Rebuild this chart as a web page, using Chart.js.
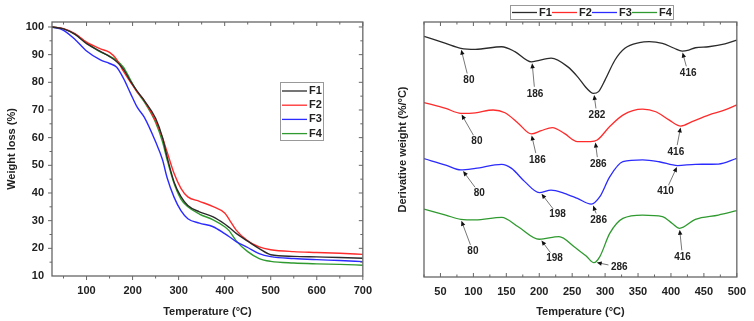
<!DOCTYPE html>
<html>
<head>
<meta charset="utf-8">
<script src="https://cdn.jsdelivr.net/npm/chart.js@4.4.0/dist/chart.umd.min.js"></script>
<style>
  html, body { margin: 0; padding: 0; background: #fff; }
  #wrap { position: relative; width: 754px; height: 321px; }
  #left { position: absolute; left: 0; top: 0; }
  #right { position: absolute; left: 380px; top: 0; }
</style>
</head>
<body>
<div id="wrap">
  <canvas id="left" width="380" height="321"></canvas>
  <canvas id="right" width="374" height="321"></canvas>
</div>
<script>
// ---- data ----
const seriesNames = ["F1", "F2", "F3", "F4"];

// TGA (weight loss %) vs temperature
const tgaTemp = [25, 50, 75, 100, 130, 150, 165, 180, 195, 210, 225, 250, 265, 275, 290, 305, 320, 345, 375, 400, 410, 425, 450, 475, 500, 550, 600, 650, 700];
const tgaF1 = [100, 99.3, 97.3, 94.0, 91.2, 89.3, 87.5, 84.8, 80.5, 76.8, 73.5, 67.0, 60.0, 53.0, 44.0, 38.7, 35.5, 33.2, 31.4, 28.8, 27.5, 25.4, 22.6, 19.9, 17.7, 17.1, 16.9, 16.7, 16.4];
const tgaF2 = [100, 99.4, 97.6, 94.5, 92.1, 90.8, 88.4, 84.0, 80.2, 76.5, 73.5, 66.0, 60.0, 54.8, 47.1, 41.7, 38.6, 37.0, 35.1, 32.8, 30.4, 26.6, 22.7, 20.5, 19.5, 18.8, 18.5, 18.2, 17.8];
const tgaF3 = [100, 98.8, 95.5, 91.3, 88.1, 86.8, 85.5, 81.5, 76.2, 71.0, 67.5, 58.5, 52.0, 45.5, 38.5, 33.6, 30.7, 29.1, 27.8, 25.3, 24.2, 22.4, 20.3, 18.1, 17.0, 16.3, 15.9, 15.6, 15.2];
const tgaF4 = [100, 99.3, 97.4, 94.3, 91.0, 89.5, 88.0, 85.5, 81.0, 76.5, 73.0, 65.5, 58.5, 52.0, 43.5, 37.8, 35.0, 32.4, 30.3, 27.8, 26.3, 22.7, 18.8, 16.3, 15.3, 14.7, 14.4, 14.2, 13.9];

// DTG (derivative weight, arbitrary stacked units) vs temperature
const dtgTempF1 = [25, 58, 81, 103, 143, 163, 188, 218, 243, 258, 272, 282, 290, 300, 315, 330, 352, 367, 387, 405, 417, 427, 437, 457, 482, 500];
const dtgF1 = [94.4, 91.6, 89.7, 89.3, 90.3, 88.4, 84.4, 85.8, 82.5, 78.6, 74.0, 72.0, 72.7, 77.3, 85.1, 89.7, 91.9, 92.3, 91.6, 89.7, 88.6, 89.0, 89.9, 90.3, 91.4, 92.9];
const dtgTempF2 = [25, 58, 81, 103, 130, 148, 168, 188, 203, 220, 238, 258, 278, 288, 307, 327, 357, 377, 397, 415, 432, 457, 482, 500];
const dtgF2 = [68.4, 66.1, 64.2, 64.4, 65.5, 64.4, 60.3, 56.1, 57.4, 58.6, 56.3, 53.1, 53.1, 53.7, 59.0, 63.5, 65.8, 64.8, 61.6, 59.2, 60.9, 63.5, 65.5, 67.5];
const dtgTempF3 = [25, 58, 81, 103, 143, 158, 178, 200, 218, 238, 258, 279, 292, 307, 327, 357, 382, 410, 437, 472, 500];
const dtgF3 = [46.4, 43.9, 42.0, 42.6, 44.2, 42.6, 37.4, 33.1, 34.1, 32.8, 30.8, 28.6, 31.5, 39.3, 45.2, 45.9, 45.2, 43.7, 44.2, 44.3, 46.5];
const dtgTempF4 = [25, 58, 81, 103, 143, 168, 200, 230, 253, 272, 283, 292, 307, 327, 357, 387, 402, 413, 437, 472, 500];
const dtgF4 = [26.6, 24.3, 22.6, 22.4, 23.4, 19.7, 14.8, 15.8, 11.9, 8.0, 5.6, 8.0, 17.1, 23.0, 24.3, 23.7, 21.0, 19.1, 22.6, 24.3, 26.0];

// DTG peak labels: text, temperature and value of the arrow tip
const peakText = ["80", "186", "282", "416", "80", "186", "286", "416", "80", "198", "286", "410", "80", "198", "286", "416"];
const peakTemp = [81, 189, 283, 417, 81, 188, 285, 415, 83, 202, 281, 410, 81, 202, 285, 413];
const peakValue = [89.7, 84.4, 72.0, 88.6, 64.2, 56.1, 53.3, 59.2, 42.0, 33.1, 28.6, 43.7, 22.6, 14.8, 5.8, 19.1];

const tgaXTicks = [100, 200, 300, 400, 500, 600, 700];
const tgaYTicks = [10, 20, 30, 40, 50, 60, 70, 80, 90, 100];
const dtgXTicks = [50, 100, 150, 200, 250, 300, 350, 400, 450, 500];

// ---- styles ----
const lineColors = ["#2b2b2b", "#ff2b2b", "#2b2bff", "#2f9a2f"];
const textColor = "#222";
const frameColor = "#666";
const fontFamily = "Arial, 'Liberation Sans', sans-serif";
// pixel offsets of each peak label from its arrow tip
const labelOffsets = [
  [8, 32], [3, 32], [3, 22], [6, 22],
  [16, 28], [6, 26], [3, 23], [-5, 26],
  [17, 23], [17, 22], [6, 16], [-12, 26],
  [12, 32], [14, 19], [24, 5], [3, 29]
];

function pairs(xs, ys) {
  return xs.map((x, i) => ({ x: x, y: ys[i] }));
}

function makeDataset(label, data, color, width) {
  return {
    label: label,
    data: data,
    borderColor: color,
    backgroundColor: color,
    borderWidth: width,
    pointRadius: 0,
    fill: false,
    cubicInterpolationMode: "monotone"
  };
}

// frame around chart area with major/minor tick marks
const framePlugin = {
  id: "frame",
  afterDraw(chart, args, opts) {
    const { ctx, chartArea: a, scales } = chart;
    ctx.save();
    ctx.strokeStyle = frameColor;
    ctx.lineWidth = 1.3;
    ctx.strokeRect(a.left, a.top, a.right - a.left, a.bottom - a.top);
    ctx.lineWidth = 1;
    const xs = scales.x, ys = scales.y;
    (opts.xTicks || []).forEach(t => {
      const px = xs.getPixelForValue(t.v);
      const len = t.major ? 4 : 2.5;
      ctx.beginPath();
      // bottom
      const bDir = opts.xOut ? 1 : -1;
      ctx.moveTo(px, a.bottom);
      ctx.lineTo(px, a.bottom + bDir * len);
      // top (always inward)
      ctx.moveTo(px, a.top);
      ctx.lineTo(px, a.top + len);
      ctx.stroke();
    });
    (opts.yTicks || []).forEach(t => {
      const py = ys.getPixelForValue(t.v);
      const len = t.major ? 4 : 2.5;
      ctx.beginPath();
      ctx.moveTo(a.left, py);
      ctx.lineTo(a.left - len, py);
      ctx.moveTo(a.right, py);
      ctx.lineTo(a.right - len, py);
      ctx.stroke();
    });
    ctx.restore();
  }
};

// legend drawn as a boxed list
const boxLegendPlugin = {
  id: "boxLegend",
  afterDraw(chart, args, opts) {
    const ctx = chart.ctx;
    const ds = chart.data.datasets;
    ctx.save();
    ctx.font = "bold 11px " + fontFamily;
    ctx.textBaseline = "middle";
    ctx.fillStyle = "#fff";
    ctx.fillRect(opts.x, opts.y, opts.w, opts.h);
    ctx.strokeStyle = "#999";
    ctx.lineWidth = 1;
    ctx.strokeRect(opts.x + 0.5, opts.y + 0.5, opts.w, opts.h);
    ds.forEach((d, i) => {
      let lx, ly;
      if (opts.horizontal) {
        lx = opts.x + 2 + i * 40;
        ly = opts.y + opts.h / 2 + 0.5;
      } else {
        lx = opts.x + 2;
        ly = opts.y + 9 + i * 14.2;
      }
      ctx.strokeStyle = d.borderColor;
      ctx.lineWidth = 1.3;
      ctx.beginPath();
      ctx.moveTo(lx, ly);
      ctx.lineTo(lx + 25, ly);
      ctx.stroke();
      ctx.fillStyle = textColor;
      ctx.fillText(d.label, lx + 27, ly);
    });
    ctx.restore();
  }
};

// DTG peak annotations: label text plus a grey arrow pointing at the curve
const peakPlugin = {
  id: "peaks",
  afterDatasetsDraw(chart) {
    const { ctx, scales } = chart;
    ctx.save();
    ctx.font = "bold 10px " + fontFamily;
    ctx.textAlign = "center";
    ctx.textBaseline = "middle";
    peakText.forEach((txt, i) => {
      const tx = scales.x.getPixelForValue(peakTemp[i]);
      const ty = scales.y.getPixelForValue(peakValue[i]);
      const lx = tx + labelOffsets[i][0];
      const ly = ty + labelOffsets[i][1];
      ctx.fillStyle = textColor;
      ctx.fillText(txt, lx, ly);
      const dx = tx - lx, dy = ty - ly;
      const d = Math.hypot(dx, dy);
      const ux = dx / d, uy = dy / d;
      const start = Math.abs(ux) > 0.8 ? 11 : 7;
      ctx.strokeStyle = "#777";
      ctx.lineWidth = 1;
      ctx.beginPath();
      ctx.moveTo(lx + ux * start, ly + uy * start);
      ctx.lineTo(tx - ux * 4, ty - uy * 4);
      ctx.stroke();
      // arrow head
      const hx = tx - ux * 1.5, hy = ty - uy * 1.5;
      ctx.fillStyle = "#111";
      ctx.beginPath();
      ctx.moveTo(hx, hy);
      ctx.lineTo(hx - ux * 5 - uy * 2.2, hy - uy * 5 + ux * 2.2);
      ctx.lineTo(hx - ux * 5 + uy * 2.2, hy - uy * 5 - ux * 2.2);
      ctx.closePath();
      ctx.fill();
    });
    ctx.restore();
  }
};

function fixedTicks(values) {
  return function (scale) {
    scale.ticks = values.map(v => ({ value: v }));
  };
}

const tickFont = { family: fontFamily, size: 11, weight: "bold" };
const titleFont = { family: fontFamily, size: 11, weight: "bold" };

// ---- left: TGA ----
const tgaSets = [tgaF1, tgaF2, tgaF3, tgaF4];
new Chart(document.getElementById("left"), {
  type: "line",
  data: {
    datasets: tgaSets.map((s, i) => makeDataset(seriesNames[i], pairs(tgaTemp, s), lineColors[i], 1.4))
  },
  options: {
    responsive: false,
    animation: false,
    events: [],
    layout: { padding: { top: 22, right: 11, left: 0, bottom: 0 } },
    plugins: {
      legend: { display: false },
      tooltip: { enabled: false },
      frame: {
        xOut: true,
        xTicks: [50, 100, 150, 200, 250, 300, 350, 400, 450, 500, 550, 600, 650, 700].map(v => ({ v: v, major: v % 100 === 0 })),
        yTicks: [15, 20, 25, 30, 35, 40, 45, 50, 55, 60, 65, 70, 75, 80, 85, 90, 95, 100].map(v => ({ v: v, major: v % 10 === 0 }))
      },
      boxLegend: { x: 280, y: 82, w: 43, h: 58, horizontal: false }
    },
    scales: {
      x: {
        type: "linear",
        min: 25,
        max: 700,
        afterBuildTicks: fixedTicks(tgaXTicks),
        afterFit(scale) { scale.height = 45; },
        grid: { display: false, drawTicks: false },
        border: { display: false },
        ticks: { color: textColor, font: tickFont, padding: 8, maxRotation: 0 },
        title: { display: true, text: "Temperature (°C)", color: textColor, font: titleFont, padding: { top: 0, bottom: 2 } }
      },
      y: {
        type: "linear",
        min: 10,
        max: 101.8,
        afterBuildTicks: fixedTicks(tgaYTicks),
        afterFit(scale) { scale.width = 52; },
        grid: { display: false, drawTicks: false },
        border: { display: false },
        ticks: { color: textColor, font: tickFont, padding: 8 },
        title: { display: true, text: "Weight loss (%)", color: textColor, font: titleFont, padding: { top: 5, bottom: 0 } }
      }
    }
  },
  plugins: [framePlugin, boxLegendPlugin]
});

// ---- right: DTG ----
const dtgSets = [pairs(dtgTempF1, dtgF1), pairs(dtgTempF2, dtgF2), pairs(dtgTempF3, dtgF3), pairs(dtgTempF4, dtgF4)];
new Chart(document.getElementById("right"), {
  type: "line",
  data: {
    datasets: dtgSets.map((s, i) => makeDataset(seriesNames[i], s, lineColors[i], 1.3))
  },
  options: {
    responsive: false,
    animation: false,
    events: [],
    layout: { padding: { top: 22, right: 12, left: 0, bottom: 0 } },
    plugins: {
      legend: { display: false },
      tooltip: { enabled: false },
      frame: {
        xOut: false,
        xTicks: [25, 50, 75, 100, 125, 150, 175, 200, 225, 250, 275, 300, 325, 350, 375, 400, 425, 450, 475, 500].map(v => ({ v: v, major: v % 50 === 0 })),
        yTicks: []
      },
      boxLegend: { x: 130, y: 5, w: 163, h: 14, horizontal: true }
    },
    scales: {
      x: {
        type: "linear",
        min: 25,
        max: 500,
        afterBuildTicks: fixedTicks(dtgXTicks),
        afterFit(scale) { scale.height = 44; },
        grid: { display: false, drawTicks: false },
        border: { display: false },
        ticks: { color: textColor, font: tickFont, padding: 8, maxRotation: 0 },
        title: { display: true, text: "Temperature (°C)", color: textColor, font: titleFont, padding: { top: 0, bottom: 2 } }
      },
      y: {
        type: "linear",
        min: 0,
        max: 100,
        afterFit(scale) { scale.width = 44; },
        grid: { display: false, drawTicks: false },
        border: { display: false },
        ticks: { display: false },
        title: { display: true, text: "Derivative weight (%/°C)", color: textColor, font: titleFont, padding: { top: 16, bottom: 0 } }
      }
    }
  },
  plugins: [framePlugin, boxLegendPlugin, peakPlugin]
});
</script>
</body>
</html>
